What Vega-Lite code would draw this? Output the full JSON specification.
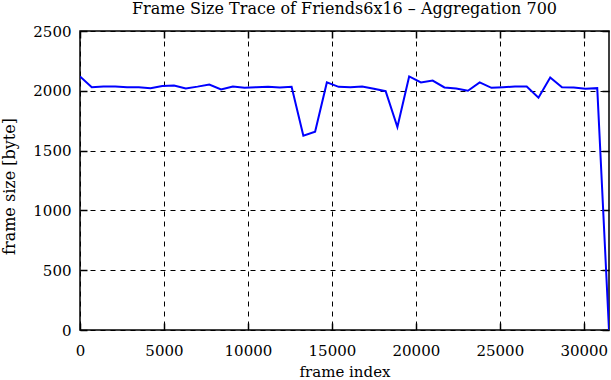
{
  "$schema": "https://vega.github.io/schema/vega-lite/v6.json",
  "autosize": "none",
  "width": 529,
  "height": 299,
  "padding": {"left": 80, "top": 31, "right": 2, "bottom": 50},
  "background": "white",
  "title": {
    "text": "Frame Size Trace of Friends6x16 \u2013 Aggregation 700",
    "font": "DejaVu Serif",
    "fontSize": 16,
    "fontWeight": "normal",
    "color": "black",
    "offset": 7
  },
  "config": {
    "view": {"stroke": "black", "strokeWidth": 1.5},
    "axis": {
      "labelFont": "DejaVu Serif",
      "labelFontSize": 15,
      "labelColor": "black",
      "titleFont": "DejaVu Serif",
      "titleFontSize": 15,
      "titleFontWeight": "normal",
      "titleColor": "black",
      "domain": false,
      "tickColor": "black",
      "tickWidth": 1.5,
      "tickSize": -7,
      "gridColor": "black",
      "gridDash": [5, 5],
      "gridWidth": 1,
      "gridOpacity": 1
    }
  },
  "data": {
    "values": [
      {"frame": 0, "size": 2120},
      {"frame": 700, "size": 2030},
      {"frame": 1400, "size": 2036},
      {"frame": 2100, "size": 2036},
      {"frame": 2800, "size": 2030},
      {"frame": 3500, "size": 2030},
      {"frame": 4200, "size": 2022},
      {"frame": 4900, "size": 2040},
      {"frame": 5600, "size": 2045},
      {"frame": 6300, "size": 2020},
      {"frame": 7000, "size": 2035},
      {"frame": 7700, "size": 2053},
      {"frame": 8400, "size": 2011},
      {"frame": 9100, "size": 2036},
      {"frame": 9800, "size": 2025},
      {"frame": 10500, "size": 2030},
      {"frame": 11200, "size": 2033},
      {"frame": 11900, "size": 2028},
      {"frame": 12600, "size": 2033},
      {"frame": 13300, "size": 1625},
      {"frame": 14000, "size": 1658},
      {"frame": 14700, "size": 2070},
      {"frame": 15400, "size": 2033},
      {"frame": 16100, "size": 2030},
      {"frame": 16800, "size": 2036},
      {"frame": 17500, "size": 2017},
      {"frame": 18200, "size": 1997},
      {"frame": 18900, "size": 1697},
      {"frame": 19600, "size": 2120},
      {"frame": 20300, "size": 2070},
      {"frame": 21000, "size": 2086},
      {"frame": 21700, "size": 2028},
      {"frame": 22400, "size": 2020},
      {"frame": 23100, "size": 2000},
      {"frame": 23800, "size": 2070},
      {"frame": 24500, "size": 2025},
      {"frame": 25200, "size": 2030},
      {"frame": 25900, "size": 2036},
      {"frame": 26600, "size": 2036},
      {"frame": 27300, "size": 1942},
      {"frame": 28000, "size": 2111},
      {"frame": 28700, "size": 2030},
      {"frame": 29400, "size": 2028},
      {"frame": 30100, "size": 2017},
      {"frame": 30800, "size": 2022},
      {"frame": 31500, "size": 0}
    ]
  },
  "layer": [
    {
      "mark": {"type": "line", "color": "#0000ff", "strokeWidth": 2, "clip": true},
      "encoding": {
        "x": {
          "field": "frame", "type": "quantitative",
          "scale": {"domain": [0, 31500], "nice": false, "zero": false},
          "axis": {"values": [0, 5000, 10000, 15000, 20000, 25000, 30000], "grid": true, "title": "frame index", "titlePadding": 6, "labelPadding": 20, "format": "d", "labelFlush": false}
        },
        "y": {
          "field": "size", "type": "quantitative",
          "scale": {"domain": [0, 2500], "nice": false},
          "axis": {"values": [0, 500, 1000, 1500, 2000, 2500], "grid": true, "title": "frame size [byte]", "titleFontSize": 16, "titleX": -71, "titleY": 155, "titleBaseline": "middle", "titleAlign": "center", "titleAngle": -90, "labelPadding": 16, "format": "d", "labelFlush": false}
        }
      }
    },
    {
      "mark": {"type": "line", "opacity": 0},
      "encoding": {
        "x": {
          "field": "frame", "type": "quantitative",
          "scale": {"domain": [0, 31500], "nice": false, "zero": false},
          "axis": {"orient": "top", "values": [0, 5000, 10000, 15000, 20000, 25000, 30000], "grid": false, "labels": false, "title": null}
        },
        "y": {
          "field": "size", "type": "quantitative",
          "scale": {"domain": [0, 2500], "nice": false},
          "axis": {"orient": "right", "values": [0, 500, 1000, 1500, 2000, 2500], "grid": false, "labels": false, "title": null}
        }
      }
    }
  ],
  "resolve": {"axis": {"x": "independent", "y": "independent"}}
}
